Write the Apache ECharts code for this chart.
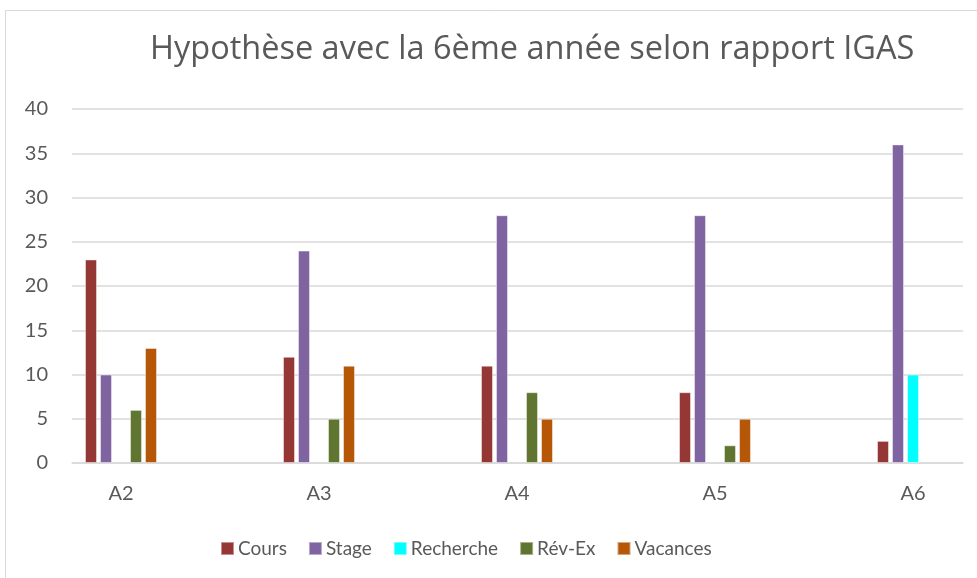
<!DOCTYPE html>
<html>
<head>
<meta charset="utf-8">
<script src="https://cdn.jsdelivr.net/npm/echarts@6/dist/echarts.min.js"></script>
<style>
 html, body { margin: 0; padding: 0; background: #fff; }
 #chart { width: 977px; height: 578px; }
</style>
</head>
<body>
<div id="chart"></div>
<script>
// données
var categories = ['A2', 'A3', 'A4', 'A5', 'A6'];
var seriesNames = ['Cours', 'Stage', 'Recherche', 'Rév-Ex', 'Vacances'];
var cours = [23, 12, 11, 8, 2.5];
var stage = [10, 24, 28, 28, 36];
var recherche = [null, null, null, null, 10];
var revEx = [6, 5, 8, 2, null];
var vacances = [13, 11, 5, 5, null];
var yTicks = [0, 5, 10, 15, 20, 25, 30, 35, 40];

var colors = ['#953735', '#8064a2', '#00ffff', '#5f7530', '#b65708'];
var values = [cours, stage, recherche, revEx, vacances];
var font = 'Lato';
var grey = '#595959';

var myChart = echarts.init(document.getElementById('chart'));

var series = seriesNames.map(function (name, i) {
    return {
        name: name,
        type: 'bar',
        xAxisIndex: 1,
        yAxisIndex: 1,
        barWidth: 12,
        barGap: '25%',
        data: values[i],
        itemStyle: {
            color: colors[i],
            borderColor: 'rgba(255,255,255,0.45)',
            borderWidth: 1
        }
    };
});

var option = {
    animation: false,
    color: colors,
    title: {
        text: 'Hypothèse avec la 6ème année selon rapport IGAS',
        left: 145,
        top: 28,
        textStyle: { fontFamily: 'Open Sans', fontWeight: 'normal', fontSize: 32.5, color: grey }
    },
    legend: {
        data: seriesNames,
        left: 215,
        top: 534,
        icon: 'rect',
        itemWidth: 13,
        itemHeight: 13,
        itemGap: 21,
        textStyle: { fontFamily: font, fontSize: 19, color: grey, padding: [0, 0, 0, -1] }
    },
    grid: [
        { left: 72, right: 14, top: 109, bottom: 115 },
        { left: 22, width: 990, top: 109, bottom: 115, outerBoundsMode: 'none' }
    ],
    xAxis: [
        {
            type: 'category',
            gridIndex: 0,
            data: categories,
            axisLine: { lineStyle: { color: '#d9d9d9', width: 1.5 } },
            axisTick: { show: false },
            axisLabel: { show: false }
        },
        {
            type: 'category',
            gridIndex: 1,
            data: categories,
            axisLine: { show: false },
            axisTick: { show: false },
            axisLabel: { fontFamily: font, fontSize: 20, color: grey, margin: 21 }
        }
    ],
    yAxis: [
        {
            type: 'value',
            gridIndex: 0,
            min: yTicks[0],
            max: yTicks[yTicks.length - 1],
            interval: 5,
            axisLine: { show: false },
            axisTick: { show: false },
            axisLabel: { fontFamily: font, fontSize: 20, color: grey, margin: 24 },
            splitLine: { lineStyle: { color: '#d9d9d9', width: 1.5 } }
        },
        {
            type: 'value',
            gridIndex: 1,
            min: yTicks[0],
            max: yTicks[yTicks.length - 1],
            interval: 5,
            show: false
        }
    ],
    graphic: [{
        type: 'rect',
        shape: { x: 5.5, y: 10.5, width: 1000, height: 600 },
        style: { fill: 'none', stroke: '#d9d9d9', lineWidth: 1 },
        silent: true
    }],
    series: series
};

myChart.setOption(option);
</script>
</body>
</html>
